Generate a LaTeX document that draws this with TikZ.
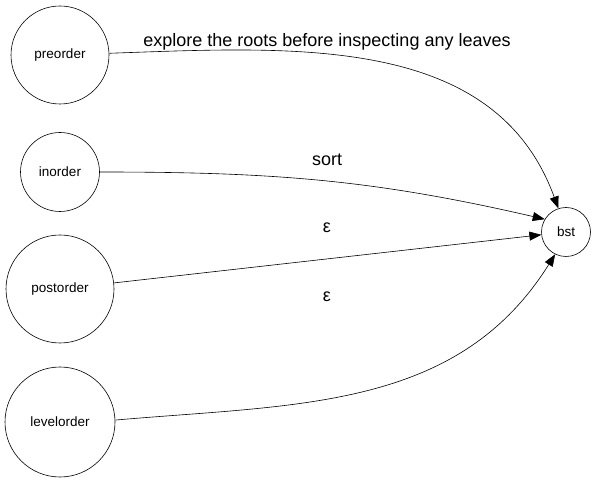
\documentclass[tikz,border=0pt]{standalone}
\usepackage{fontspec}
\setmainfont{Liberation Sans}
\usetikzlibrary{arrows.meta}

\begin{document}
\begin{tikzpicture}[x=1pt,y=1pt,
    state/.style={draw, circle, line width=0.6pt, inner sep=0pt,
                  font=\fontsize{13.5}{16}\selectfont},
    lbl/.style={font=\fontsize{18}{21}\selectfont},
    trans/.style={line width=0.6pt, -{Triangle[length=12pt,width=9pt]}}]
  \useasboundingbox (0,0) rectangle (597,482);
  % traversals
  \node[state, minimum size=98pt]  (pre)  at (60,427) {preorder};
  \node[state, minimum size=79pt]  (ino)  at (60,310) {inorder};
  \node[state, minimum size=108pt] (post) at (60,193) {postorder};
  \node[state, minimum size=110pt] (lvl)  at (60,60)  {levelorder};
  % target
  \node[state, minimum size=49pt]  (bst)  at (566,250) {bst};
  % transitions
  \draw[trans] (pre)  to[out=2,in=110]   (bst.108);
  \draw[trans] (ino)  to[out=0,in=167]   (bst.149);
  \draw[trans] (post) --                 (bst);
  \draw[trans] (lvl.2) to[out=5,in=-122] (bst.244);
  % labels
  \node[lbl] (lpre)  at (327,440) {explore the roots before inspecting any leaves};
  \node[lbl] (lino)  at (327,322) {sort};
  \node[lbl] (lpost) at (327,254) {ε};
  \node[lbl] (llvl)  at (327,185) {ε};
\end{tikzpicture}
\end{document}
